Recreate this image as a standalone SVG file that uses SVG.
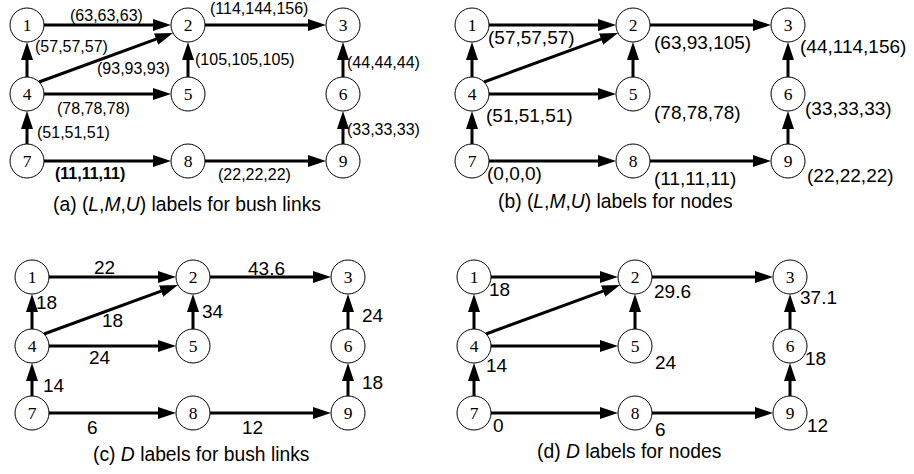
<svg xmlns="http://www.w3.org/2000/svg" width="914" height="474" viewBox="0 0 914 474">
<style>
.node circle{fill:#fff;stroke:#000;stroke-width:1}
.node text{font-family:"Liberation Serif","DejaVu Serif",serif;font-size:17.5px;text-anchor:middle;fill:#000}
.edge{stroke:#000;stroke-width:3;fill:none;marker-end:url(#arr)}
.lbl{font-family:"Liberation Sans",Arial,sans-serif;font-size:19px;fill:#000}
.sm{font-size:16px}
.b{font-weight:bold}
.cap{font-family:"Liberation Sans",Arial,sans-serif;font-size:19.3px;fill:#000}
.it{font-style:italic}
</style>
<defs>
<marker id="arr" markerUnits="userSpaceOnUse" markerWidth="19" markerHeight="12" refX="8" refY="6" orient="auto"><path d="M0,0 L18,6 L0,12 z" fill="#000"/></marker>
</defs>

<!-- Panel (a) -->
<g id="panel-a">
<g id="a-connectors">
<path class="edge" d="M44,25 H161"/>
<path class="edge" d="M205,25 H316"/>
<path class="edge" d="M44,94 H161"/>
<path class="edge" d="M44,161 H161"/>
<path class="edge" d="M205,161 H316"/>
<path class="edge" d="M27,77 V52"/>
<path class="edge" d="M27,144 V121"/>
<path class="edge" d="M188,77 V52"/>
<path class="edge" d="M343,77 V52"/>
<path class="edge" d="M343,144 V121"/>
<path class="edge" d="M39,82 L163.6,36.4"/>
</g>
<g id="a-n1" class="node"><circle cx="27" cy="25" r="17"/><text x="27" y="31">1</text></g>
<g id="a-n2" class="node"><circle cx="188" cy="25" r="17"/><text x="188" y="31">2</text></g>
<g id="a-n3" class="node"><circle cx="343" cy="25" r="17"/><text x="343" y="31">3</text></g>
<g id="a-n4" class="node"><circle cx="27" cy="94" r="17"/><text x="27" y="100">4</text></g>
<g id="a-n5" class="node"><circle cx="188" cy="94" r="17"/><text x="188" y="100">5</text></g>
<g id="a-n6" class="node"><circle cx="343" cy="94" r="17"/><text x="343" y="100">6</text></g>
<g id="a-n7" class="node"><circle cx="27" cy="161" r="17"/><text x="27" y="167">7</text></g>
<g id="a-n8" class="node"><circle cx="188" cy="161" r="17"/><text x="188" y="167">8</text></g>
<g id="a-n9" class="node"><circle cx="343" cy="161" r="17"/><text x="343" y="167">9</text></g>
<g id="a-labels" class="lbl sm">
<text x="70" y="21">(63,63,63)</text>
<text x="210" y="14">(114,144,156)</text>
<text x="35" y="52">(57,57,57)</text>
<text x="97" y="74">(93,93,93)</text>
<text x="195" y="65">(105,105,105)</text>
<text x="347" y="68">(44,44,44)</text>
<text x="57" y="114">(78,78,78)</text>
<text x="37" y="138">(51,51,51)</text>
<text x="347" y="135">(33,33,33)</text>
<text x="55" y="179" class="b">(11,11,11)</text>
<text x="218" y="180">(22,22,22)</text>
</g>
<text class="cap" x="53" y="211">(a) (<tspan class="it">L</tspan>,<tspan class="it">M</tspan>,<tspan class="it">U</tspan>) labels for bush links</text>
</g>

<!-- Panel (b) -->
<g id="panel-b">
<g transform="translate(445,0)">
<g id="b-connectors">
<path class="edge" d="M44,25 H161"/>
<path class="edge" d="M205,25 H316"/>
<path class="edge" d="M44,94 H161"/>
<path class="edge" d="M44,161 H161"/>
<path class="edge" d="M205,161 H316"/>
<path class="edge" d="M27,77 V52"/>
<path class="edge" d="M27,144 V121"/>
<path class="edge" d="M188,77 V52"/>
<path class="edge" d="M343,77 V52"/>
<path class="edge" d="M343,144 V121"/>
<path class="edge" d="M39,82 L163.6,36.4"/>
</g>
<g id="b-n1" class="node"><circle cx="27" cy="25" r="17"/><text x="27" y="31">1</text></g>
<g id="b-n2" class="node"><circle cx="188" cy="25" r="17"/><text x="188" y="31">2</text></g>
<g id="b-n3" class="node"><circle cx="343" cy="25" r="17"/><text x="343" y="31">3</text></g>
<g id="b-n4" class="node"><circle cx="27" cy="94" r="17"/><text x="27" y="100">4</text></g>
<g id="b-n5" class="node"><circle cx="188" cy="94" r="17"/><text x="188" y="100">5</text></g>
<g id="b-n6" class="node"><circle cx="343" cy="94" r="17"/><text x="343" y="100">6</text></g>
<g id="b-n7" class="node"><circle cx="27" cy="161" r="17"/><text x="27" y="167">7</text></g>
<g id="b-n8" class="node"><circle cx="188" cy="161" r="17"/><text x="188" y="167">8</text></g>
<g id="b-n9" class="node"><circle cx="343" cy="161" r="17"/><text x="343" y="167">9</text></g>
</g>
<g id="b-labels" class="lbl">
<text x="488" y="44">(57,57,57)</text>
<text x="654" y="49">(63,93,105)</text>
<text x="800" y="53">(44,114,156)</text>
<text x="486" y="122">(51,51,51)</text>
<text x="654" y="119">(78,78,78)</text>
<text x="805" y="115">(33,33,33)</text>
<text x="487" y="180">(0,0,0)</text>
<text x="654" y="185">(11,11,11)</text>
<text x="807" y="182">(22,22,22)</text>
</g>
<text class="cap" x="498" y="208">(b) (<tspan class="it">L</tspan>,<tspan class="it">M</tspan>,<tspan class="it">U</tspan>) labels for nodes</text>
</g>

<!-- Panel (c) -->
<g id="panel-c">
<g transform="translate(5,252)">
<g id="c-connectors">
<path class="edge" d="M44,25 H161"/>
<path class="edge" d="M205,25 H316"/>
<path class="edge" d="M44,94 H161"/>
<path class="edge" d="M44,161 H161"/>
<path class="edge" d="M205,161 H316"/>
<path class="edge" d="M27,77 V52"/>
<path class="edge" d="M27,144 V121"/>
<path class="edge" d="M188,77 V52"/>
<path class="edge" d="M343,77 V52"/>
<path class="edge" d="M343,144 V121"/>
<path class="edge" d="M39,82 L163.6,36.4"/>
</g>
<g id="c-n1" class="node"><circle cx="27" cy="25" r="17"/><text x="27" y="31">1</text></g>
<g id="c-n2" class="node"><circle cx="188" cy="25" r="17"/><text x="188" y="31">2</text></g>
<g id="c-n3" class="node"><circle cx="343" cy="25" r="17"/><text x="343" y="31">3</text></g>
<g id="c-n4" class="node"><circle cx="27" cy="94" r="17"/><text x="27" y="100">4</text></g>
<g id="c-n5" class="node"><circle cx="188" cy="94" r="17"/><text x="188" y="100">5</text></g>
<g id="c-n6" class="node"><circle cx="343" cy="94" r="17"/><text x="343" y="100">6</text></g>
<g id="c-n7" class="node"><circle cx="27" cy="161" r="17"/><text x="27" y="167">7</text></g>
<g id="c-n8" class="node"><circle cx="188" cy="161" r="17"/><text x="188" y="167">8</text></g>
<g id="c-n9" class="node"><circle cx="343" cy="161" r="17"/><text x="343" y="167">9</text></g>
</g>
<g id="c-labels" class="lbl">
<text x="94" y="274">22</text>
<text x="248" y="275">43.6</text>
<text x="36" y="309">18</text>
<text x="102" y="327">18</text>
<text x="202" y="318">34</text>
<text x="362" y="322">24</text>
<text x="89" y="364">24</text>
<text x="43" y="392">14</text>
<text x="362" y="389">18</text>
<text x="87" y="434">6</text>
<text x="242" y="434">12</text>
</g>
<text class="cap" x="93" y="461">(c) <tspan class="it">D</tspan> labels for bush links</text>
</g>

<!-- Panel (d) -->
<g id="panel-d">
<g transform="translate(447,252)">
<g id="d-connectors">
<path class="edge" d="M44,25 H161"/>
<path class="edge" d="M205,25 H316"/>
<path class="edge" d="M44,94 H161"/>
<path class="edge" d="M44,161 H161"/>
<path class="edge" d="M205,161 H316"/>
<path class="edge" d="M27,77 V52"/>
<path class="edge" d="M27,144 V121"/>
<path class="edge" d="M188,77 V52"/>
<path class="edge" d="M343,77 V52"/>
<path class="edge" d="M343,144 V121"/>
<path class="edge" d="M39,82 L163.6,36.4"/>
</g>
<g id="d-n1" class="node"><circle cx="27" cy="25" r="17"/><text x="27" y="31">1</text></g>
<g id="d-n2" class="node"><circle cx="188" cy="25" r="17"/><text x="188" y="31">2</text></g>
<g id="d-n3" class="node"><circle cx="343" cy="25" r="17"/><text x="343" y="31">3</text></g>
<g id="d-n4" class="node"><circle cx="27" cy="94" r="17"/><text x="27" y="100">4</text></g>
<g id="d-n5" class="node"><circle cx="188" cy="94" r="17"/><text x="188" y="100">5</text></g>
<g id="d-n6" class="node"><circle cx="343" cy="94" r="17"/><text x="343" y="100">6</text></g>
<g id="d-n7" class="node"><circle cx="27" cy="161" r="17"/><text x="27" y="167">7</text></g>
<g id="d-n8" class="node"><circle cx="188" cy="161" r="17"/><text x="188" y="167">8</text></g>
<g id="d-n9" class="node"><circle cx="343" cy="161" r="17"/><text x="343" y="167">9</text></g>
</g>
<g id="d-labels" class="lbl">
<text x="489" y="296">18</text>
<text x="654" y="298">29.6</text>
<text x="800" y="304">37.1</text>
<text x="486" y="372">14</text>
<text x="655" y="369">24</text>
<text x="805" y="365">18</text>
<text x="493" y="432">0</text>
<text x="655" y="436">6</text>
<text x="807" y="432">12</text>
</g>
<text class="cap" x="537" y="458">(d) <tspan class="it">D</tspan> labels for nodes</text>
</g>
</svg>
